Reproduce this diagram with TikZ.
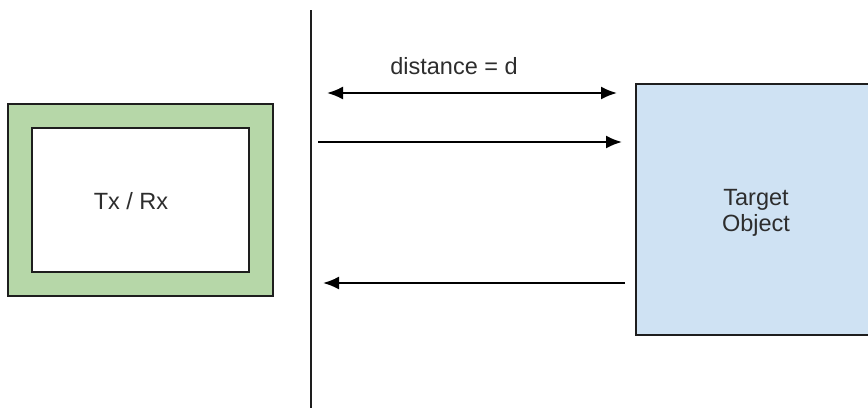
\documentclass[tikz,border=0pt]{standalone}
\usepackage{fontspec}
\setmainfont{Liberation Sans}
\usetikzlibrary{arrows.meta,positioning,calc}
\definecolor{boxgreen}{RGB}{182,215,168}
\definecolor{boxblue}{RGB}{207,226,243}
\definecolor{labelgrey}{RGB}{45,45,45}
\definecolor{edgegrey}{RGB}{30,30,30}

\begin{document}
\begin{tikzpicture}[x=1pt, y=-1pt,
  every node/.style={font=\fontsize{23.5}{26}\selectfont, text=labelgrey, align=center},
  blockbox/.style={rectangle, draw=edgegrey, line width=2pt, inner sep=0pt},
  sig/.style={line width=2pt, -{Latex[length=16pt,width=13pt]}}]
\useasboundingbox (0,0) rectangle (868,408);
\begin{scope}
\clip (0,0) rectangle (868,408);
\node (txrx) [blockbox, fill=boxgreen, minimum width=265pt, minimum height=192pt] at (140.5,200) {};
\node (txrxin) [blockbox, fill=white, minimum width=217pt, minimum height=144pt] at (txrx.center) {};
\node (txrxlabel) at (131,201) {Tx / Rx};
\node (target) [blockbox, fill=boxblue, minimum width=236pt, minimum height=251pt] at (754,209.5) {};
\node (targetlabel) at (756,213) {Target\\Object};

\coordinate (walltop) at (311,10);
\coordinate (wallbot) at (311,408);
\draw [line width=2pt, edgegrey] (walltop) -- (wallbot);

\coordinate (dleft) at (327,93);
\coordinate (dright) at (617,93);
\draw [sig, {Latex[length=16pt,width=13pt]}-{Latex[length=16pt,width=13pt]}] (dleft) -- (dright);
\node (dist) at (454,66) {distance = d};

\coordinate (txout) at (318,142);
\coordinate (txin) at (622,142);
\draw [sig] (txout) -- (txin);

\coordinate (echo) at (625,283);
\coordinate (rxin) at (323,283);
\draw [sig] (echo) -- (rxin);
\end{scope}
\end{tikzpicture}
\end{document}
